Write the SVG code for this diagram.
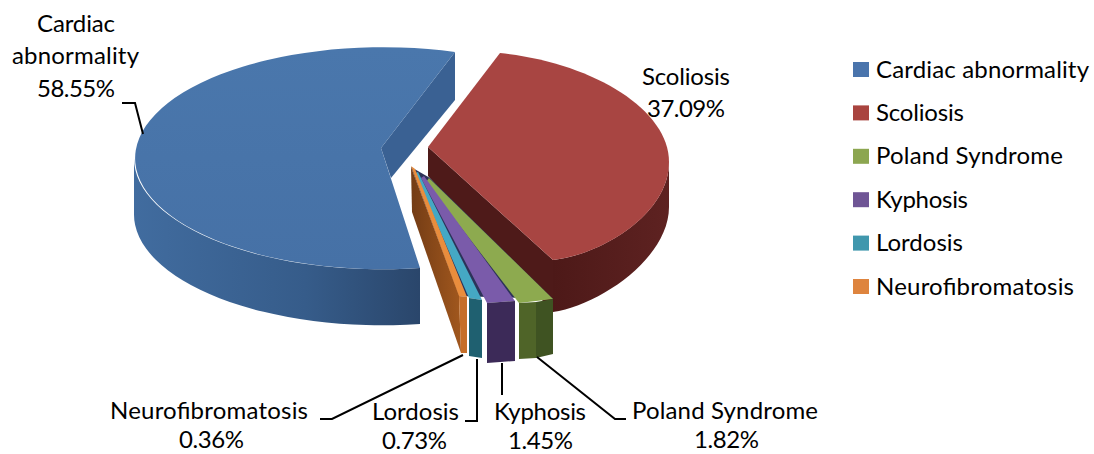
<svg xmlns="http://www.w3.org/2000/svg" width="1094" height="454" viewBox="0 0 1094 454">
<style>
text{font-family:Lato,"Liberation Sans",sans-serif;font-size:24px;fill:#000}
.ld{fill:none;stroke:#000;stroke-width:2}
</style>
<defs>
<linearGradient id="bw" x1="134" y1="0" x2="420" y2="0" gradientUnits="userSpaceOnUse"><stop offset="0" stop-color="#416C9F"/><stop offset="0.6" stop-color="#365C8A"/><stop offset="1" stop-color="#2A466B"/></linearGradient>
<linearGradient id="bt" x1="0" y1="47" x2="0" y2="268" gradientUnits="userSpaceOnUse"><stop offset="0" stop-color="#4A77AC"/><stop offset="1" stop-color="#4671A6"/></linearGradient>
<linearGradient id="rw" x1="553" y1="0" x2="669" y2="0" gradientUnits="userSpaceOnUse"><stop offset="0" stop-color="#4D1918"/><stop offset="1" stop-color="#5E2221"/></linearGradient>
<linearGradient id="br" x1="411" y1="0" x2="462" y2="0" gradientUnits="userSpaceOnUse"><stop offset="0" stop-color="#733C15"/><stop offset="1" stop-color="#A2581E"/></linearGradient>
</defs>

<g id="slice-cardiac">
<path d="M134,158 A248 111 0 0 0 420,268 L420,324 A248 111 0 0 1 134,213 Z" fill="url(#bw)"/>
<path d="M381,148 L455,52 L455,100 L391,178 Z" fill="#3A6193"/>
<path d="M455,52 A248 111 0 1 0 420,268 L381,148 Z" fill="url(#bt)"/>
</g>

<g id="slice-scoliosis">
<path d="M428,147 L553,260 L553,312 L428,176 Z" fill="#4E1A19"/>
<path d="M669,162 C669,215 600,255 553,260 L553,312 C600,305 669,258 669,207 Z" fill="url(#rw)"/>
<path d="M428,147 L500,53 C590,62 669,108 669,162 C669,215 600,255 553,260 Z" fill="#A84542"/>
</g>

<g id="small-slice-base">
<path d="M411,167 L430,178 L553,299 L459,296 Z" fill="#2C3358"/>
</g>

<g id="slice-poland">
<path d="M429,178 L553,299 L519,303 L426,182 Z" fill="#8DAA4F"/>
<path d="M519,303 L536,302 L536,358 L519,359 Z" fill="#4F6428"/>
<path d="M536,302 L553,299 L553,354 L536,358 Z" fill="#3F5322"/>
</g>

<g id="slice-kyphosis">
<path d="M424,176 L515,301 L487,303 L421,178 Z" fill="#7A5BAA"/>
<path d="M487,303 L515,301 L515,361 L487,363 Z" fill="#3C2A58"/>
</g>

<g id="slice-lordosis">
<path d="M418,172 L482,300 L469,298 L415,173 Z" fill="#45A8C4"/>
<path d="M469,298 L482,300 L482,358 L469,356 Z" fill="#1F6070"/>
</g>

<g id="slice-neurofibromatosis">
<path d="M411,167 L459,295 L461,353 L412,212 Z" fill="url(#br)"/>
<path d="M411,166 L415,169 L467,297 L459,296 Z" fill="#E98D3D"/>
<path d="M459,296 L467,297 L467,353 L461,353 Z" fill="#C66E28"/>
</g>

<g id="connectors">
<path class="ld" d="M122,103 L135,103 L143,134"/>
<path class="ld" d="M320,419 L332,419 L463,355"/>
<path class="ld" d="M465,421 L477,421 L477,359"/>
<path class="ld" d="M502,363 L502,395"/>
<path class="ld" d="M537,357 L615,419 L626,419"/>
</g>

<g id="data-labels">
<text x="37" y="32" textLength="78">Cardiac</text>
<text x="12" y="64" textLength="127">abnormality</text>
<text x="37" y="97" textLength="78">58.55%</text>
<text x="642" y="85" textLength="88">Scoliosis</text>
<text x="647" y="117" textLength="78">37.09%</text>
<text x="110" y="419" textLength="198">Neurofibromatosis</text>
<text x="179" y="448" textLength="65">0.36%</text>
<text x="372" y="420" textLength="87">Lordosis</text>
<text x="382" y="449" textLength="65">0.73%</text>
<text x="494" y="420" textLength="92">Kyphosis</text>
<text x="508" y="449" textLength="65">1.45%</text>
<text x="632" y="419" textLength="186">Poland Syndrome</text>
<text x="694" y="448" textLength="65">1.82%</text>
</g>

<g id="legend">
<g id="legend-cardiac"><rect x="853" y="62" width="16" height="15" fill="#4A74AC"/><text x="876" y="77.5" textLength="213">Cardiac abnormality</text></g>
<g id="legend-scoliosis"><rect x="853" y="105.4" width="16" height="15" fill="#A9443F"/><text x="876" y="120.9" textLength="88">Scoliosis</text></g>
<g id="legend-poland"><rect x="853" y="148.8" width="16" height="15" fill="#8CA650"/><text x="876" y="164.3" textLength="187">Poland Syndrome</text></g>
<g id="legend-kyphosis"><rect x="853" y="192.2" width="16" height="15" fill="#6F5595"/><text x="876" y="207.7" textLength="92">Kyphosis</text></g>
<g id="legend-lordosis"><rect x="853" y="235.6" width="16" height="15" fill="#4097AD"/><text x="876" y="251.1" textLength="87">Lordosis</text></g>
<g id="legend-neurofibromatosis"><rect x="853" y="279" width="16" height="15" fill="#DE843E"/><text x="876" y="294.5" textLength="198">Neurofibromatosis</text></g>
</g>
</svg>
